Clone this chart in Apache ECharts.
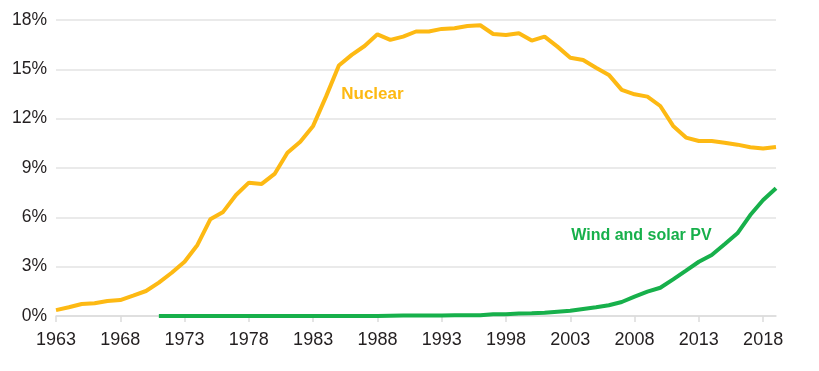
<!DOCTYPE html>
<html><head><meta charset="utf-8">
<script src="https://cdn.jsdelivr.net/npm/echarts@6/dist/echarts.min.js"></script>
<style>html,body{margin:0;padding:0;background:#fff}#c{width:819px;height:371px}</style>
</head><body><div id="c"></div>
<script>
const years = [];
for (let y = 1963; y <= 2019; y++) years.push(String(y));

const nuclear = [0.36,0.53,0.73,0.77,0.91,0.97,1.24,1.52,2.03,2.63,3.30,4.32,5.88,6.33,7.36,8.11,8.03,8.64,9.93,10.6,11.56,13.34,15.23,15.88,16.42,17.13,16.79,16.99,17.3,17.3,17.46,17.5,17.64,17.68,17.15,17.09,17.2,16.75,16.99,16.38,15.71,15.57,15.1,14.66,13.75,13.48,13.34,12.77,11.56,10.85,10.64,10.64,10.54,10.42,10.26,10.18,10.28];

const windSolar = [null,null,null,null,null,null,null,null,0,0,0,0,0,0,0,0,0,0,0,0,0,0,0,0,0,0,0.02,0.03,0.03,0.03,0.03,0.04,0.04,0.04,0.1,0.1,0.15,0.16,0.2,0.26,0.32,0.43,0.53,0.65,0.85,1.18,1.48,1.72,2.23,2.76,3.3,3.71,4.36,5.03,6.14,7.05,7.77];

const yTicks = [0,3,6,9,12,15,18];

const FONT = '"Liberation Sans", Arial, sans-serif';
const chart = echarts.init(document.getElementById('c'), null, {renderer:'canvas'});
chart.setOption({
  animation: false,
  grid: {left: 56, right: 43, top: 20, bottom: 55},
  xAxis: {
    type: 'category', data: years, boundaryGap: false,
    axisLine: {show: true, lineStyle: {color: '#dcdcdc', width: 1.5}},
    axisTick: {show: true, length: 6, interval: (i) => i % 5 === 0, lineStyle: {color: '#dcdcdc', width: 1.5}},
    axisLabel: {interval: (i) => i % 5 === 0, color: '#231f20', fontSize: 18, fontFamily: FONT, margin: 15}
  },
  yAxis: {
    type: 'value', min: yTicks[0], max: yTicks[yTicks.length-1], interval: 3,
    axisLine: {show: false}, axisTick: {show: false},
    splitLine: {lineStyle: {color: '#e3e3e3', width: 1.5}},
    axisLabel: {formatter: '{value}%', color: '#231f20', fontSize: 17.5, fontFamily: FONT, margin: 9}
  },
  series: [
    {
      name: 'Nuclear', type: 'line', data: nuclear, showSymbol: false,
      lineStyle: {color: '#fdb913', width: 4}, itemStyle: {color: '#fdb913'},
      markPoint: {
        symbol: 'circle', symbolSize: 0,
        label: {show: true, formatter: 'Nuclear', color: '#fdb913', fontWeight: 'bold', fontSize: 17, fontFamily: FONT, offset: [-5, 2]},
        data: [{coord: ['1988', 13.58]}]
      }
    },
    {
      name: 'Wind and solar PV', type: 'line', data: windSolar, showSymbol: false,
      lineStyle: {color: '#17b04b', width: 4}, itemStyle: {color: '#17b04b'},
      markPoint: {
        symbol: 'circle', symbolSize: 0,
        label: {show: true, formatter: 'Wind and solar PV', color: '#17b04b', fontWeight: 'bold', fontSize: 16, fontFamily: FONT, offset: [-6, 2]},
        data: [{coord: ['2009', 5.0]}]
      }
    }
  ]
});
</script></body></html>
